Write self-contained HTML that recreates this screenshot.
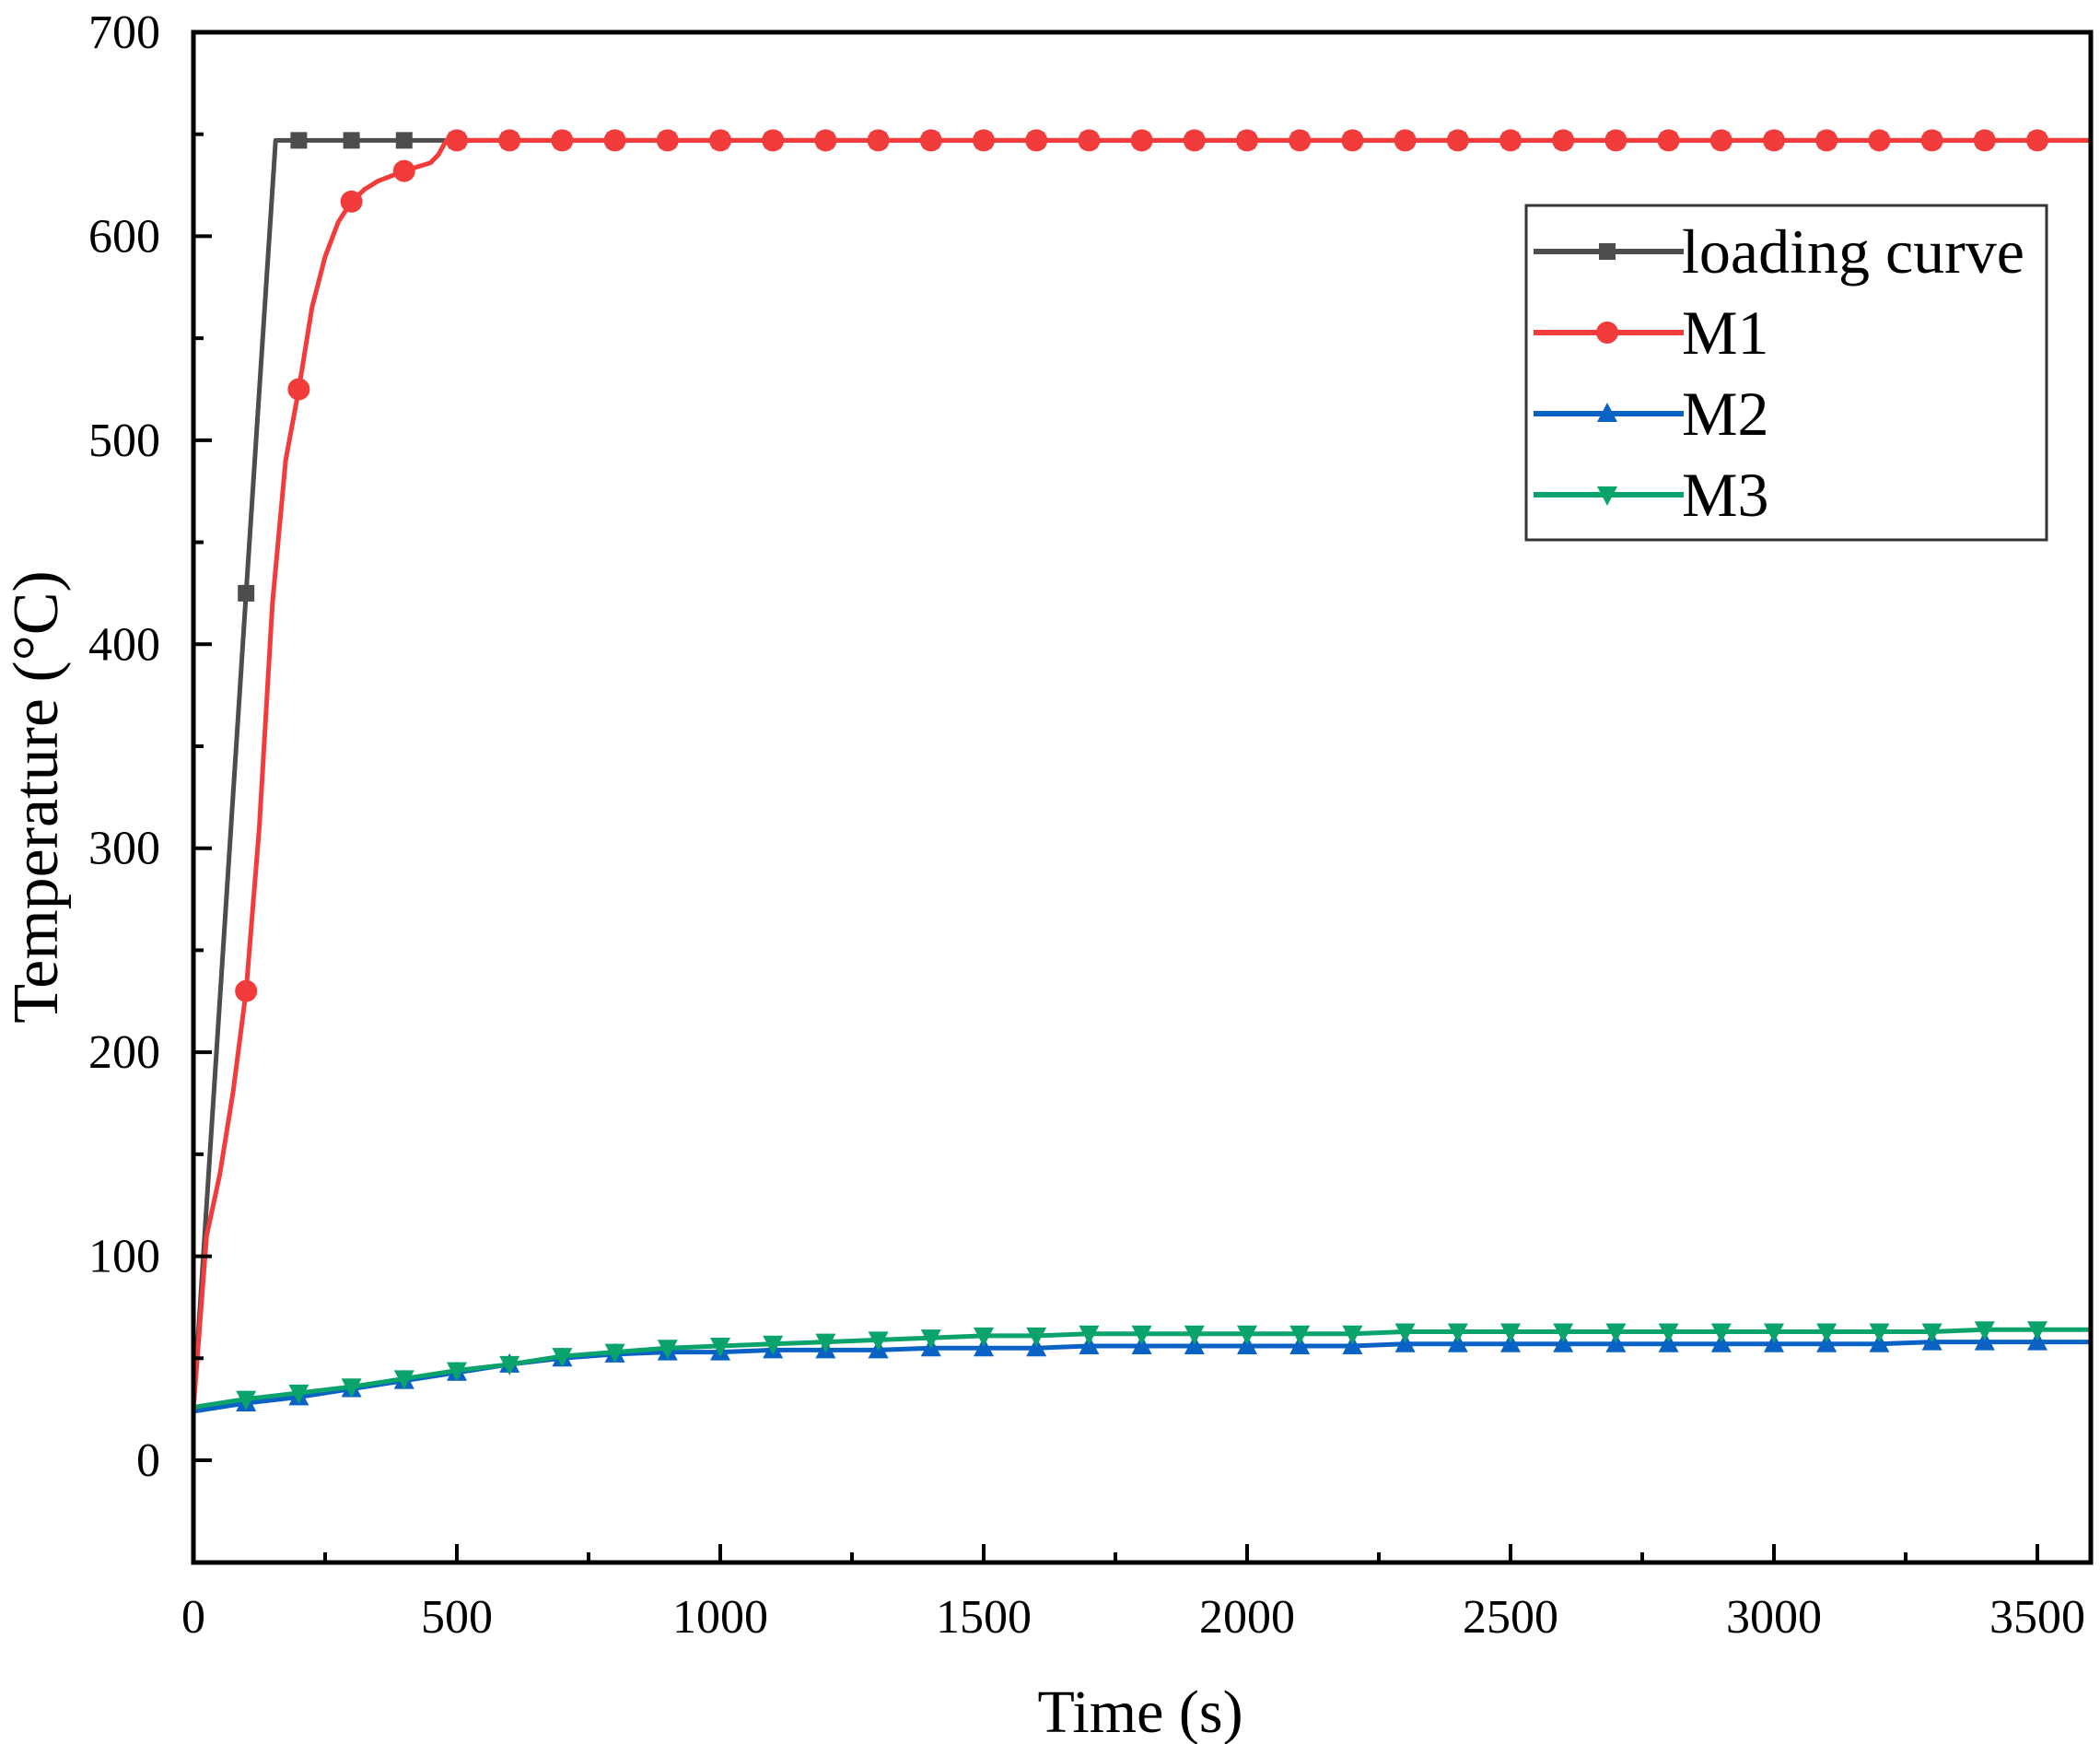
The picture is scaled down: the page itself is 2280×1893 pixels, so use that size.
<!DOCTYPE html>
<html><head><meta charset="utf-8"><style>
html,body{margin:0;padding:0;background:#fff}
svg{display:block}
text{font-family:"Liberation Serif",serif;fill:#000}
</style></head><body>
<svg id="chart" width="2280" height="1893" viewBox="0 0 2280 1893" xmlns="http://www.w3.org/2000/svg">
<g id="marks"></g>
<g id="axes"></g>
<g id="legend"></g>
</svg>
<script>
const xTicks=[0,500,1000,1500,2000,2500,3000,3500];
const yTicks=[0,100,200,300,400,500,600,700];
const loadT=[0,100,156,200,300,400,500,600,700,800,900,1000,1100,1200,1300,1400,1500,1600,1700,1800,1900,2000,2100,2200,2300,2400,2500,2600,2700,2800,2900,3000,3100,3200,3300,3400,3500,3600];
const loadV=[25,425,647,647,647,647,647,647,647,647,647,647,647,647,647,647,647,647,647,647,647,647,647,647,647,647,647,647,647,647,647,647,647,647,647,647,647,647];
const m1T=[0,25,50,75,100,125,150,175,200,225,250,275,300,325,350,400,425,450,465,480,500,600,700,800,900,1000,1100,1200,1300,1400,1500,1600,1700,1800,1900,2000,2100,2200,2300,2400,2500,2600,2700,2800,2900,3000,3100,3200,3300,3400,3500,3600];
const m1V=[25,110,140,180,230,310,420,490,525,565,590,607,617,623,627,632,634,636,640,647,647,647,647,647,647,647,647,647,647,647,647,647,647,647,647,647,647,647,647,647,647,647,647,647,647,647,647,647,647,647,647,647];
const mT=[0,100,200,300,400,500,600,700,800,900,1000,1100,1200,1300,1400,1500,1600,1700,1800,1900,2000,2100,2200,2300,2400,2500,2600,2700,2800,2900,3000,3100,3200,3300,3400,3500,3600];
const m2V=[24,28,31,35,39,43,47,50,52,53,53,54,54,54,55,55,55,56,56,56,56,56,56,57,57,57,57,57,57,57,57,57,57,58,58,58,58];
const m3V=[26,30,33,36,40,44,47,51,53,55,56,57,58,59,60,61,61,62,62,62,62,62,62,63,63,63,63,63,63,63,63,63,63,63,64,64,64];

const L=210,R=2270,T=35,B=1696;
const X=v=>L+(v-0)*(2212-210)/3500;
const Y=v=>1585-v*(1585-35)/700;
const NS="http://www.w3.org/2000/svg";
function el(tag,attrs,parent){const e=document.createElementNS(NS,tag);for(const k in attrs)e.setAttribute(k,attrs[k]);parent.appendChild(e);return e;}
const marks=document.getElementById('marks'),axes=document.getElementById('axes'),leg=document.getElementById('legend');

function marker(kind,x,y,color,parent){
  let m;
  if(kind==='square'){m=el('rect',{x:x-9,y:y-9,width:18,height:18,fill:color},parent);}
  else if(kind==='circle'){m=el('circle',{cx:x,cy:y,r:12,fill:color},parent);}
  else if(kind==='up'){m=el('polygon',{points:`${x},${y-12} ${x-11},${y+9} ${x+11},${y+9}`,fill:color},parent);}
  else {m=el('polygon',{points:`${x},${y+12} ${x-11},${y-9} ${x+11},${y-9}`,fill:color},parent);}
  return m;
}
function series(ts,vs,color,kind,name){
  const g=el('g',{},marks);
  
  
  const p=el('polyline',{points:ts.map((t,i)=>X(t)+','+Y(vs[i])).join(' '),fill:'none',stroke:color,'stroke-width':5,'stroke-linejoin':'round'},g);
  
  
  ts.forEach((t,i)=>{ if(t>0 && t<=3500 && t%100===0){const m=marker(kind,X(t),Y(vs[i]),color,g);
    
    }});
}
series(loadT,loadV,'#4d4d4d','square','loading-curve');
series(mT,m2V,'#0a62c4','up','m2');
series(mT,m3V,'#0aa36b','down','m3');
series(m1T,m1V,'#f23c3c','circle','m1');

const fr=el('rect',{x:L,y:T,width:R-L,height:B-T,fill:'none',stroke:'#000','stroke-width':5},axes);


for(let v=0;v<=3600;v+=250){const x=X(v);const major=v%500===0;
  const t=el('line',{x1:x,y1:B,x2:x,y2:B-(major?20:11),stroke:'#000','stroke-width':4},axes);
  
  }
for(let v=-50;v<=700;v+=50){const y=Y(v);const major=v%100===0;
  const t=el('line',{x1:L,y1:y,x2:L+(major?20:11),y2:y,stroke:'#000','stroke-width':4},axes);
  
  }
xTicks.forEach(v=>{const t=el('text',{x:X(v),y:1772,'font-size':52,'text-anchor':'middle'},axes);t.textContent=v;
  
  });
yTicks.forEach(v=>{const t=el('text',{x:174,y:Y(v)+17,'font-size':52,'text-anchor':'end'},axes);t.textContent=v;
  
  });
const xt=el('text',{x:1238,y:1880,'font-size':66,'text-anchor':'middle'},axes);xt.textContent='Time (s)';


const yt=el('text',{x:0,y:0,'font-size':70,'text-anchor':'middle',transform:'translate(62,865) rotate(-90)'},axes);yt.textContent='Temperature (°C)';



const lb=el('rect',{x:1657,y:223,width:565,height:363,fill:'#fff',stroke:'#333','stroke-width':3},leg);


const entries=[['loading curve','#4d4d4d','square'],['M1','#f23c3c','circle'],['M2','#0a62c4','up'],['M3','#0aa36b','down']];
entries.forEach((e,i)=>{const y=273+i*88;const g=el('g',{},leg);
  
  
  el('line',{x1:1665,y1:y,x2:1828,y2:y,stroke:e[1],'stroke-width':6},g);
  marker(e[2],1745,y,e[1],g);
  const t=el('text',{x:1826,y:y+23,'font-size':68},g);t.textContent=e[0];});
</script>
</body></html>
